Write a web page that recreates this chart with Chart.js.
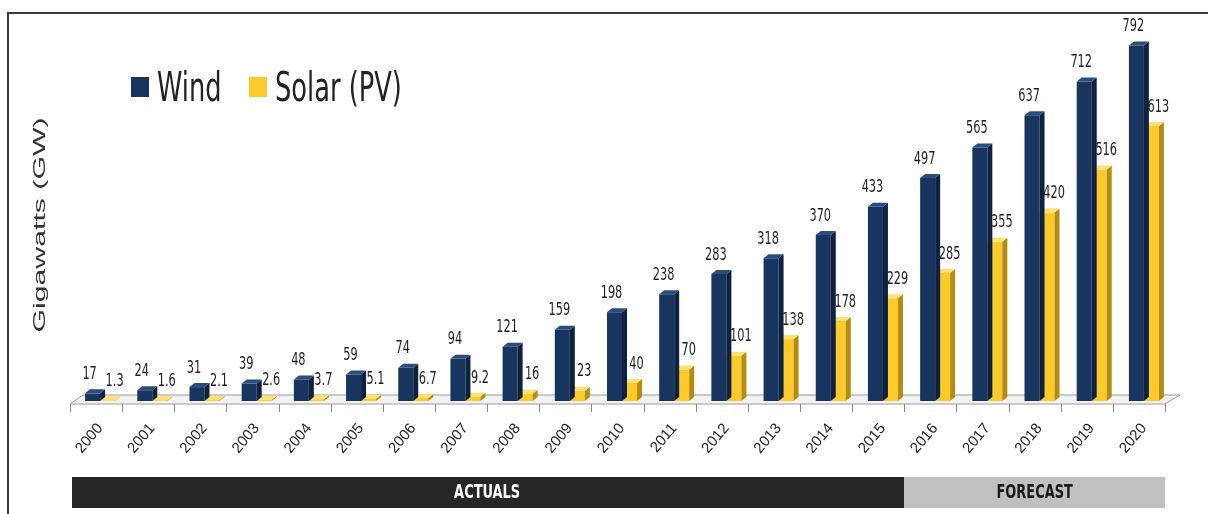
<!DOCTYPE html>
<html>
<head>
<meta charset="utf-8">
<title>Wind and Solar capacity</title>
<script src="https://cdn.jsdelivr.net/npm/chart.js@4/dist/chart.umd.min.js"></script>
<style>
  html, body { margin: 0; padding: 0; background: #fff; }
  #wrap { position: relative; width: 1208px; height: 514px; }
</style>
</head>
<body>
<div id="wrap"><canvas id="chart"></canvas></div>
<script>
const YEARS = ["2000", "2001", "2002", "2003", "2004", "2005", "2006", "2007", "2008", "2009", "2010",
  "2011", "2012", "2013", "2014", "2015", "2016", "2017", "2018", "2019", "2020"];
const WIND = [17, 24, 31, 39, 48, 59, 74, 94, 121, 159, 198, 238, 283, 318, 370, 433, 497, 565, 637, 712, 792];
const SOLAR = [1.3, 1.6, 2.1, 2.6, 3.7, 5.1, 6.7, 9.2, 16, 23, 40, 70, 101, 138, 178, 229, 285, 355, 420, 516, 613];
const FIRST_FORECAST = "2016";

const NARROW = "'Liberation Sans Narrow', 'DejaVu Sans Condensed', Arial, sans-serif";
const SANS = "'Liberation Sans', Arial, sans-serif";

// colours: front, side, top
const WIND_COLORS = ["#17355f", "#0d2242", "#2b4c7e"];
const SOLAR_COLORS = ["#fdca2b", "#b68c10", "#ffe070"];

function stretchText(ctx, text, x, y, font, sx, sy, align, baseline, color, angle) {
  ctx.save();
  ctx.translate(x, y);
  if (angle) ctx.rotate(angle);
  ctx.scale(sx, sy);
  ctx.font = font;
  ctx.textAlign = align;
  ctx.textBaseline = baseline;
  ctx.fillStyle = color;
  ctx.fillText(text, 0, 0);
  ctx.restore();
}

// floor corners in pixels, from the chart area
function floorEdges(chart) {
  const a = chart.chartArea;
  return { fl: a.left - 4, fr: a.right - 5, bl: a.left + 9, br: a.right + 10, fy: a.bottom + 3, by: a.bottom - 6 };
}

const decorPlugin = {
  id: "decor",
  beforeDatasetsDraw(chart) {
    const ctx = chart.ctx;
    const f = floorEdges(chart);
    ctx.save();
    // frame
    ctx.strokeStyle = "#3a3a3a";
    ctx.lineWidth = 2;
    ctx.beginPath();
    ctx.moveTo(8, 514);
    ctx.lineTo(8, 13);
    ctx.lineTo(1208, 13);
    ctx.stroke();
    // floor
    ctx.fillStyle = "#f3f3f3";
    ctx.strokeStyle = "#9a9a9a";
    ctx.lineWidth = 1;
    ctx.beginPath();
    ctx.moveTo(f.fl, f.fy);
    ctx.lineTo(f.bl, f.by);
    ctx.lineTo(f.br, f.by);
    ctx.lineTo(f.fr, f.fy);
    ctx.closePath();
    ctx.fill();
    ctx.stroke();
    // ticks on front edge
    const n = YEARS.length;
    const step = (f.fr - f.fl) / n;
    ctx.strokeStyle = "#8a8a8a";
    for (let i = 0; i <= n; i++) {
      const x = Math.round(f.fl + i * step) + 0.5;
      ctx.beginPath();
      ctx.moveTo(x, f.fy);
      ctx.lineTo(x, f.fy + 8);
      ctx.stroke();
    }
    ctx.restore();
  },
  afterDatasetDraw(chart, args) {
    const ctx = chart.ctx;
    const cols = args.index === 0 ? WIND_COLORS : SOLAR_COLORS;
    const dx = 5, dy = 4;
    ctx.save();
    args.meta.data.forEach((bar) => {
      const p = bar.getProps(["x", "y", "base", "width"], true);
      const l = p.x - p.width / 2, r = p.x + p.width / 2;
      ctx.fillStyle = cols[1];
      ctx.beginPath();
      ctx.moveTo(r, p.y);
      ctx.lineTo(r + dx, p.y - dy);
      ctx.lineTo(r + dx, p.base - dy);
      ctx.lineTo(r, p.base);
      ctx.closePath();
      ctx.fill();
      ctx.fillStyle = cols[2];
      ctx.beginPath();
      ctx.moveTo(l, p.y);
      ctx.lineTo(l + dx, p.y - dy);
      ctx.lineTo(r + dx, p.y - dy);
      ctx.lineTo(r, p.y);
      ctx.closePath();
      ctx.fill();
    });
    ctx.restore();
  },
  afterDatasetsDraw(chart) {
    const ctx = chart.ctx;
    const f = floorEdges(chart);
    // value labels
    chart.data.datasets.forEach((ds, di) => {
      const meta = chart.getDatasetMeta(di);
      meta.data.forEach((bar, i) => {
        const off = di === 0 ? -3 : 7;
        stretchText(ctx, String(ds.data[i]), bar.x + off, bar.y - 10, "14px " + NARROW, 0.9, 1.3, "center", "bottom", "#1e1e1e");
      });
    });
    // legend
    const lg = [["Wind", WIND_COLORS[0], 131, 157], ["Solar (PV)", SOLAR_COLORS[0], 249, 275]];
    lg.forEach(([txt, col, sqx, tx]) => {
      ctx.fillStyle = col;
      ctx.fillRect(sqx, 77, 18, 20);
      stretchText(ctx, txt, tx, 101, "34px " + NARROW, 0.84, 1.2, "left", "alphabetic", "#222");
    });
    // y axis title
    ctx.save();
    ctx.font = "17px " + SANS;
    const w = ctx.measureText("Gigawatts (GW)").width;
    ctx.restore();
    stretchText(ctx, "Gigawatts (GW)", 40, 225, "17px " + SANS, 215 / w, 1, "center", "middle", "#333", -Math.PI / 2);
    // actuals / forecast bands
    const n = YEARS.length;
    const step = (f.fr - f.fl) / n;
    const split = f.fl + YEARS.indexOf(FIRST_FORECAST) * step;
    ctx.fillStyle = "#262626";
    ctx.fillRect(f.fl + 2, 477, split - f.fl - 2, 31);
    ctx.fillStyle = "#c0c0c0";
    ctx.fillRect(split, 477, f.fr - split, 31);
    stretchText(ctx, "ACTUALS", (f.fl + split) / 2, 493, "bold 16px " + NARROW, 0.9, 1.2, "center", "middle", "#ffffff");
    stretchText(ctx, "FORECAST", (split + f.fr) / 2, 493, "bold 16px " + NARROW, 0.9, 1.2, "center", "middle", "#1a1a1a");
  }
};

new Chart(document.getElementById("chart"), {
  type: "bar",
  data: {
    labels: YEARS,
    datasets: [
      { label: "Wind", data: WIND, backgroundColor: WIND_COLORS[0] },
      { label: "Solar (PV)", data: SOLAR, backgroundColor: SOLAR_COLORS[0] }
    ]
  },
  options: {
    responsive: true,
    maintainAspectRatio: false,
    animation: false,
    events: [],
    layout: { padding: { left: 74, right: 38, top: 42, bottom: 53 } },
    datasets: { bar: { categoryPercentage: 0.575, barPercentage: 1.0 } },
    scales: {
      x: {
        grid: { display: false, drawTicks: false },
        border: { display: false },
        ticks: {
          font: { family: SANS, size: 15 },
          color: "#222",
          minRotation: 50,
          maxRotation: 50,
          padding: 19
        },
        afterFit(scale) { scale.height = 60; }
      },
      y: { display: false, min: 0, max: 800 }
    },
    plugins: {
      legend: { display: false },
      tooltip: { enabled: false }
    }
  },
  plugins: [decorPlugin]
});
</script>
</body>
</html>
